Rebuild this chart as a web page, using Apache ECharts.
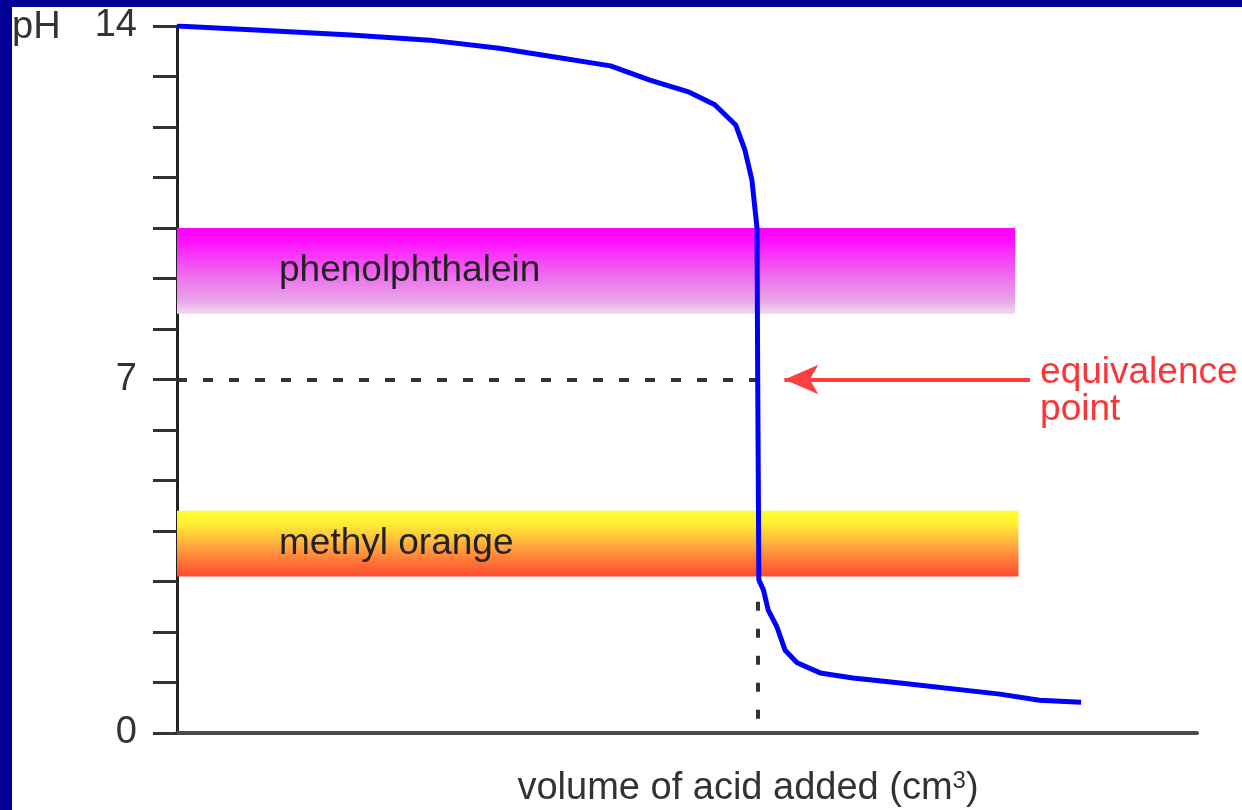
<!DOCTYPE html>
<html>
<head>
<meta charset="utf-8">
<title>Titration curve</title>
<script src="https://cdn.jsdelivr.net/npm/echarts@6/dist/echarts.min.js"></script>
<style>
  html, body { margin: 0; padding: 0; background: #fff; }
  #titration { position: relative; width: 1242px; height: 810px; }
  #titration .frame-top { position: absolute; left: 0; top: 0; width: 100%; height: 7px; background: #000099; z-index: 5; }
  #titration .frame-left { position: absolute; left: 0; top: 0; width: 12px; height: 100%; background: #000099; z-index: 5; }
  #myChart { width: 1242px; height: 810px; }
</style>
</head>
<body>
<div id="titration">
  <div class="frame-top"></div>
  <div class="frame-left"></div>
  <div id="myChart"></div>
</div>
<script>
  // titration curve (volume in arbitrary cm3 units)
  const volume = [0, 3.4, 7.5, 10.9, 13.9, 16.5, 18.7, 20.4, 22.1, 23.2, 24.1, 24.5, 24.8, 25.02, 25.05, 25.1,
                  25.3, 25.5, 25.88, 26.23, 26.75, 27.74, 29.16, 31.2, 35.5, 37.2, 39.0];
  const ph = [14.0, 13.92, 13.82, 13.72, 13.56, 13.37, 13.21, 12.93, 12.69, 12.44, 12.04, 11.54, 10.95, 10.0, 7.0, 3.03,
              2.83, 2.44, 2.10, 1.64, 1.39, 1.19, 1.09, 0.99, 0.77, 0.65, 0.61];
  const yTickLabels = { 0: '0', 7: '7', 14: '14' };

  // indicator colour-change ranges
  const indicatorNames = ['phenolphthalein', 'methyl orange'];
  const indicatorLow = [8.3, 3.1];
  const indicatorHigh = [10.0, 4.4];
  const indicatorEnd = [36.15, 36.3];

  const equivVolume = 25.05;
  const equivPh = 7;
  const arrowFrom = 36.8;
  const arrowTo = 26.2;

  const bandColors = [
    [[0, '#ff00ff'], [0.15, '#ff10ff'], [0.5, '#f060f0'], [0.85, '#e8a8e8'], [1, '#f2d8f2']],
    [[0, '#ffff33'], [0.2, '#ffee33'], [0.5, '#ffb040'], [0.75, '#ff7a38'], [1, '#ff4a30']]
  ];

  function grad(stops) {
    return new echarts.graphic.LinearGradient(0, 0, 0, 1, stops.map(s => ({ offset: s[0], color: s[1] })));
  }

  let chart = echarts.init(document.getElementById('myChart'));
  chart.setOption({
    animation: false,
    textStyle: { fontFamily: 'Liberation Sans, Arial, sans-serif' },
    grid: { left: 177, right: 45, top: 26, bottom: 77, outerBoundsMode: 'none', containLabel: false },
    graphic: [
      { type: 'text', left: 12, top: 9, style: { text: 'pH', fontSize: 38, fill: '#333', fontFamily: 'Liberation Sans' } }
    ],
    xAxis: {
      type: 'value',
      min: 0,
      max: 44,
      axisLine: { show: true, lineStyle: { color: '#4a4a4a', width: 4 } },
      axisTick: { show: false },
      axisLabel: { show: false },
      splitLine: { show: false },
      name: 'volume of acid added (cm{sup|3})',
      nameLocation: 'middle',
      nameGap: 36,
      nameTextStyle: {
        fontSize: 38,
        color: '#333',
        padding: [0, 0, 0, 122],
        rich: { sup: { fontSize: 24, color: '#333', padding: [0, 0, 16, 0] } }
      }
    },
    yAxis: {
      type: 'value',
      min: 0,
      max: 14,
      interval: 1,
      axisLine: { show: true, lineStyle: { color: '#222', width: 3 } },
      axisTick: { show: true, length: 24, lineStyle: { color: '#333', width: 3 } },
      axisLabel: {
        fontSize: 38,
        color: '#333',
        margin: 40,
        formatter: v => yTickLabels[v] || ''
      },
      splitLine: { show: false }
    },
    series: [
      {
        name: 'pH',
        type: 'line',
        data: volume.map((v, i) => [v, ph[i]]),
        showSymbol: false,
        lineStyle: { color: '#0000ff', width: 5 },
        z: 5,
        markArea: {
          silent: true,
          data: indicatorNames.map((n, i) => [
            {
              name: n,
              coord: [0, indicatorHigh[i]],
              itemStyle: { color: grad(bandColors[i]) },
              label: {
                show: true,
                position: [102, '50%'],
                verticalAlign: 'middle',
                fontSize: 37,
                color: '#222'
              }
            },
            { coord: [indicatorEnd[i], indicatorLow[i]] }
          ])
        },
        markLine: {
          silent: true,
          label: { show: false },
          data: [
            [
              { coord: [0, equivPh], symbol: 'none', lineStyle: { color: '#333', width: 4, type: [10, 16] } },
              { coord: [equivVolume, equivPh], symbol: 'none' }
            ],
            [
              { coord: [equivVolume, 2.6], symbol: 'none', lineStyle: { color: '#333', width: 4, type: [9, 18] } },
              { coord: [equivVolume, 0.25], symbol: 'none' }
            ],
            [
              {
                coord: [arrowFrom, equivPh],
                symbol: 'none',
                lineStyle: { color: '#ff4040', width: 4, type: 'solid' },
                label: {
                  show: true,
                  position: 'start',
                  distance: 10,
                  formatter: 'equivalence\npoint',
                  fontSize: 37,
                  lineHeight: 37,
                  color: '#ff3333',
                  offset: [0, 12]
                }
              },
              { coord: [arrowTo, equivPh], symbol: 'arrow', symbolSize: [22, 34], itemStyle: { color: '#ff0000' } }
            ]
          ]
        }
      }
    ]
  }, true);
</script>
</body>
</html>
